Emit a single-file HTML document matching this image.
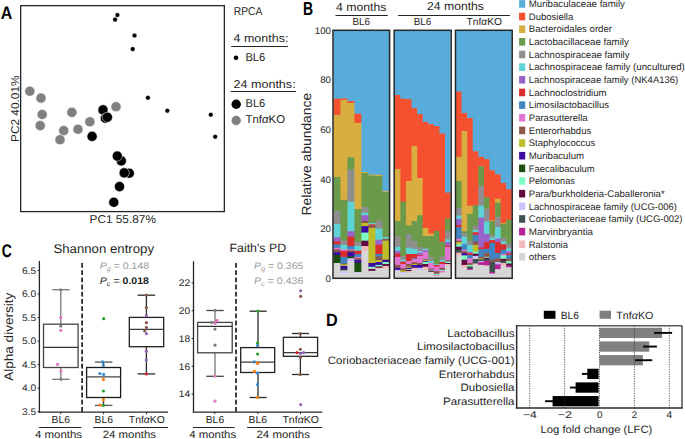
<!DOCTYPE html>
<html><head><meta charset="utf-8"><style>
html,body{margin:0;padding:0;background:#fff;width:685px;height:439px;overflow:hidden}
svg{display:block}
text{font-family:"Liberation Sans",sans-serif;white-space:pre;text-rendering:geometricPrecision}
</style></head><body>
<svg width="685" height="439" viewBox="0 0 685 439">
<rect width="685" height="439" fill="#fff"/>
<text x="0.70" y="19.30" font-size="18.02" font-weight="bold" font-style="normal" fill="#000" textLength="11.53" lengthAdjust="spacingAndGlyphs" >A</text>
<rect x="20.65" y="5.65" width="203.7" height="205.95" fill="none" stroke="#262626" stroke-width="1.3"/>
<circle cx="29.8" cy="91.2" r="5.05" fill="#808080" stroke="#fff" stroke-width="0.5"/>
<circle cx="41" cy="98.1" r="5.05" fill="#808080" stroke="#fff" stroke-width="0.5"/>
<circle cx="42.2" cy="114.5" r="5.05" fill="#808080" stroke="#fff" stroke-width="0.5"/>
<circle cx="40.2" cy="125.6" r="5.05" fill="#808080" stroke="#fff" stroke-width="0.5"/>
<circle cx="63.7" cy="130.6" r="5.05" fill="#808080" stroke="#fff" stroke-width="0.5"/>
<circle cx="60" cy="139.7" r="5.05" fill="#808080" stroke="#fff" stroke-width="0.5"/>
<circle cx="71.9" cy="112.4" r="5.05" fill="#808080" stroke="#fff" stroke-width="0.5"/>
<circle cx="78" cy="129.3" r="5.05" fill="#808080" stroke="#fff" stroke-width="0.5"/>
<circle cx="89.9" cy="121.8" r="5.05" fill="#808080" stroke="#fff" stroke-width="0.5"/>
<circle cx="116" cy="106.8" r="5.05" fill="#808080" stroke="#fff" stroke-width="0.5"/>
<circle cx="103" cy="109.9" r="5.05" fill="#000" stroke="#fff" stroke-width="0.5"/>
<circle cx="105.4" cy="118.2" r="5.05" fill="#000" stroke="#fff" stroke-width="0.5"/>
<circle cx="107.4" cy="117.2" r="5.05" fill="#000" stroke="#fff" stroke-width="0.5"/>
<circle cx="92.1" cy="136.4" r="5.05" fill="#000" stroke="#fff" stroke-width="0.5"/>
<circle cx="121.3" cy="160.9" r="5.05" fill="#000" stroke="#fff" stroke-width="0.5"/>
<circle cx="117.3" cy="156.1" r="5.05" fill="#000" stroke="#fff" stroke-width="0.5"/>
<circle cx="129.3" cy="173.2" r="5.05" fill="#000" stroke="#fff" stroke-width="0.5"/>
<circle cx="124.2" cy="172.9" r="5.05" fill="#000" stroke="#fff" stroke-width="0.5"/>
<circle cx="119.5" cy="186.6" r="5.05" fill="#000" stroke="#fff" stroke-width="0.5"/>
<circle cx="113.8" cy="202.3" r="5.05" fill="#000" stroke="#fff" stroke-width="0.5"/>
<circle cx="117.4" cy="15" r="2.3" fill="#000" stroke="#fff" stroke-width="0.3"/>
<circle cx="115.1" cy="19.6" r="2.3" fill="#000" stroke="#fff" stroke-width="0.3"/>
<circle cx="134.5" cy="35.5" r="2.3" fill="#000" stroke="#fff" stroke-width="0.3"/>
<circle cx="132.7" cy="49.1" r="2.3" fill="#000" stroke="#fff" stroke-width="0.3"/>
<circle cx="147.9" cy="97.8" r="2.3" fill="#000" stroke="#fff" stroke-width="0.3"/>
<circle cx="167.3" cy="110.7" r="2.3" fill="#000" stroke="#fff" stroke-width="0.3"/>
<circle cx="210.8" cy="114.7" r="2.3" fill="#000" stroke="#fff" stroke-width="0.3"/>
<circle cx="215.2" cy="136.7" r="2.3" fill="#000" stroke="#fff" stroke-width="0.3"/>
<text x="233.70" y="14.90" font-size="11.34" font-weight="normal" font-style="normal" fill="#262626" textLength="28.78" lengthAdjust="spacingAndGlyphs" >RPCA</text>
<text x="233.50" y="41.60" font-size="11.34" font-weight="normal" font-style="normal" fill="#262626" textLength="54.91" lengthAdjust="spacingAndGlyphs" >4 months:</text>
<line x1="231.1" y1="46.5" x2="288" y2="46.5" stroke="#262626" stroke-width="1.1" />
<circle cx="236" cy="57.8" r="2.3" fill="#000" stroke="none" stroke-width="0"/>
<text x="245.40" y="60.50" font-size="11.34" font-weight="normal" font-style="normal" fill="#262626" textLength="19.89" lengthAdjust="spacingAndGlyphs" >BL6</text>
<text x="233.50" y="87.80" font-size="11.34" font-weight="normal" font-style="normal" fill="#262626" textLength="62.13" lengthAdjust="spacingAndGlyphs" >24 months:</text>
<line x1="230.7" y1="91.5" x2="296" y2="91.5" stroke="#262626" stroke-width="1.1" />
<circle cx="236.2" cy="104.2" r="4.7" fill="#000" stroke="none" stroke-width="0"/>
<text x="245.50" y="106.60" font-size="11.34" font-weight="normal" font-style="normal" fill="#262626" textLength="19.79" lengthAdjust="spacingAndGlyphs" >BL6</text>
<circle cx="236.2" cy="120.5" r="4.7" fill="#808080" stroke="none" stroke-width="0"/>
<text x="245.50" y="122.60" font-size="11.34" font-weight="normal" font-style="normal" fill="#262626" textLength="39.58" lengthAdjust="spacingAndGlyphs" >Tnf<tspan font-style="italic">α</tspan>KO</text>
<text x="89.50" y="223.00" font-size="11.34" font-weight="normal" font-style="normal" fill="#262626" textLength="66.40" lengthAdjust="spacingAndGlyphs" >PC1 55.87%</text>
<text transform="translate(19.20,142.00) rotate(-90)" x="-0.00" y="0" font-size="11.34" font-weight="normal" font-style="normal" fill="#262626" textLength="66.50" lengthAdjust="spacingAndGlyphs" >PC2 40.01%</text>
<text x="302.90" y="14.80" font-size="18.75" font-weight="bold" font-style="normal" fill="#000" textLength="10.13" lengthAdjust="spacingAndGlyphs" >B</text>
<text x="336.00" y="10.90" font-size="11.63" font-weight="normal" font-style="normal" fill="#262626" textLength="50.48" lengthAdjust="spacingAndGlyphs" >4 months</text>
<line x1="335.5" y1="15.5" x2="387.8" y2="15.5" stroke="#262626" stroke-width="1.1" />
<text x="352.50" y="25.40" font-size="10.17" font-weight="normal" font-style="normal" fill="#262626" textLength="17.49" lengthAdjust="spacingAndGlyphs" >BL6</text>
<text x="427.00" y="10.40" font-size="11.63" font-weight="normal" font-style="normal" fill="#262626" textLength="56.99" lengthAdjust="spacingAndGlyphs" >24 months</text>
<line x1="398" y1="15.5" x2="510" y2="15.5" stroke="#262626" stroke-width="1.1" />
<text x="413.70" y="25.20" font-size="10.17" font-weight="normal" font-style="normal" fill="#262626" textLength="17.69" lengthAdjust="spacingAndGlyphs" >BL6</text>
<text x="466.50" y="25.20" font-size="10.17" font-weight="normal" font-style="normal" fill="#262626" textLength="35.48" lengthAdjust="spacingAndGlyphs" >Tnf<tspan font-style="italic">α</tspan>KO</text>
<text x="314.76" y="33.80" font-size="9.59" font-weight="normal" font-style="normal" fill="#262626" textLength="16.22" lengthAdjust="spacingAndGlyphs" >100</text>
<text x="320.16" y="83.40" font-size="9.59" font-weight="normal" font-style="normal" fill="#262626" textLength="10.86" lengthAdjust="spacingAndGlyphs" >80</text>
<text x="320.16" y="133.00" font-size="9.59" font-weight="normal" font-style="normal" fill="#262626" textLength="10.86" lengthAdjust="spacingAndGlyphs" >60</text>
<text x="320.16" y="182.60" font-size="9.59" font-weight="normal" font-style="normal" fill="#262626" textLength="10.86" lengthAdjust="spacingAndGlyphs" >40</text>
<text x="320.16" y="232.20" font-size="9.59" font-weight="normal" font-style="normal" fill="#262626" textLength="10.86" lengthAdjust="spacingAndGlyphs" >20</text>
<text x="325.60" y="281.80" font-size="9.59" font-weight="normal" font-style="normal" fill="#262626" textLength="5.41" lengthAdjust="spacingAndGlyphs" >0</text>
<text transform="translate(311.40,215.40) rotate(-90)" x="-0.00" y="0" font-size="13.23" font-weight="normal" font-style="normal" fill="#262626" textLength="122.60" lengthAdjust="spacingAndGlyphs" >Relative abundance</text>
<rect x="333.40" y="30.30" width="7.60" height="68.90" fill="#58acdc" />
<rect x="333.40" y="98.70" width="7.60" height="16.60" fill="#f5502f" />
<rect x="333.40" y="114.80" width="7.60" height="62.60" fill="#d8ae40" />
<rect x="333.40" y="176.90" width="7.60" height="34.70" fill="#6b9a4b" />
<rect x="333.40" y="211.10" width="7.60" height="13.50" fill="#8e8e8e" />
<rect x="333.40" y="224.10" width="7.60" height="13.70" fill="#5dd3d6" />
<rect x="333.40" y="237.30" width="7.60" height="4.60" fill="#9b63c9" />
<rect x="333.40" y="241.40" width="7.60" height="3.50" fill="#dc2b2b" />
<rect x="333.40" y="244.40" width="7.60" height="3.90" fill="#3e85c1" />
<rect x="333.40" y="247.80" width="7.60" height="2.00" fill="#e274d4" />
<rect x="333.40" y="249.30" width="7.60" height="3.30" fill="#8c564b" />
<rect x="333.40" y="252.10" width="7.60" height="3.40" fill="#3b0aa0" />
<rect x="333.40" y="255.00" width="7.60" height="8.50" fill="#1b4d0c" />
<rect x="333.40" y="263.00" width="7.60" height="15.30" fill="#d6d6d6" />
<rect x="340.40" y="30.30" width="7.60" height="68.60" fill="#58acdc" />
<rect x="340.40" y="98.40" width="7.60" height="1.90" fill="#f5502f" />
<rect x="340.40" y="99.80" width="7.60" height="100.50" fill="#d8ae40" />
<rect x="340.40" y="199.80" width="7.60" height="41.20" fill="#6b9a4b" />
<rect x="340.40" y="240.50" width="7.60" height="4.80" fill="#8e8e8e" />
<rect x="340.40" y="244.80" width="7.60" height="5.00" fill="#5dd3d6" />
<rect x="340.40" y="249.30" width="7.60" height="2.10" fill="#e274d4" />
<rect x="340.40" y="250.90" width="7.60" height="6.50" fill="#dc2b2b" />
<rect x="340.40" y="256.90" width="7.60" height="7.10" fill="#3e85c1" />
<rect x="340.40" y="263.50" width="7.60" height="1.40" fill="#8c564b" />
<rect x="340.40" y="264.40" width="7.60" height="2.00" fill="#bdbe2a" />
<rect x="340.40" y="265.90" width="7.60" height="3.80" fill="#3b0aa0" />
<rect x="340.40" y="269.20" width="7.60" height="1.70" fill="#1b4d0c" />
<rect x="340.40" y="270.40" width="7.60" height="1.50" fill="#d6d6d6" />
<rect x="340.40" y="271.40" width="7.60" height="2.10" fill="#cdc2ff" />
<rect x="340.40" y="273.00" width="7.60" height="5.30" fill="#d6d6d6" />
<rect x="347.40" y="30.30" width="7.60" height="71.30" fill="#58acdc" />
<rect x="347.40" y="101.10" width="7.60" height="2.40" fill="#f5502f" />
<rect x="347.40" y="103.00" width="7.60" height="54.80" fill="#d8ae40" />
<rect x="347.40" y="157.30" width="7.60" height="12.60" fill="#6b9a4b" />
<rect x="347.40" y="169.40" width="7.60" height="32.90" fill="#8e8e8e" />
<rect x="347.40" y="201.80" width="7.60" height="29.90" fill="#5dd3d6" />
<rect x="347.40" y="231.20" width="7.60" height="5.90" fill="#9b63c9" />
<rect x="347.40" y="236.60" width="7.60" height="9.90" fill="#dc2b2b" />
<rect x="347.40" y="246.00" width="7.60" height="3.80" fill="#3e85c1" />
<rect x="347.40" y="249.30" width="7.60" height="1.40" fill="#e274d4" />
<rect x="347.40" y="250.20" width="7.60" height="2.40" fill="#8c564b" />
<rect x="347.40" y="252.10" width="7.60" height="4.80" fill="#3b0aa0" />
<rect x="347.40" y="256.40" width="7.60" height="2.40" fill="#1b4d0c" />
<rect x="347.40" y="258.30" width="7.60" height="3.80" fill="#cdc2ff" />
<rect x="347.40" y="261.60" width="7.60" height="16.70" fill="#d6d6d6" />
<rect x="354.40" y="30.30" width="7.60" height="83.90" fill="#58acdc" />
<rect x="354.40" y="113.70" width="7.60" height="9.80" fill="#f5502f" />
<rect x="354.40" y="123.00" width="7.60" height="86.60" fill="#d8ae40" />
<rect x="354.40" y="209.10" width="7.60" height="33.20" fill="#6b9a4b" />
<rect x="354.40" y="241.80" width="7.60" height="4.50" fill="#8e8e8e" />
<rect x="354.40" y="245.80" width="7.60" height="5.40" fill="#5dd3d6" />
<rect x="354.40" y="250.70" width="7.60" height="3.80" fill="#dc2b2b" />
<rect x="354.40" y="254.00" width="7.60" height="3.40" fill="#3e85c1" />
<rect x="354.40" y="256.90" width="7.60" height="1.70" fill="#e274d4" />
<rect x="354.40" y="258.10" width="7.60" height="2.40" fill="#8c564b" />
<rect x="354.40" y="260.00" width="7.60" height="3.10" fill="#3b0aa0" />
<rect x="354.40" y="262.60" width="7.60" height="9.90" fill="#1b4d0c" />
<rect x="354.40" y="272.00" width="7.60" height="1.50" fill="#cdc2ff" />
<rect x="354.40" y="273.00" width="7.60" height="5.30" fill="#d6d6d6" />
<rect x="361.40" y="30.30" width="7.60" height="142.30" fill="#58acdc" />
<rect x="361.40" y="172.10" width="7.60" height="1.40" fill="#d8ae40" />
<rect x="361.40" y="173.00" width="7.60" height="34.50" fill="#6b9a4b" />
<rect x="361.40" y="207.00" width="7.60" height="6.30" fill="#8e8e8e" />
<rect x="361.40" y="212.80" width="7.60" height="2.90" fill="#5dd3d6" />
<rect x="361.40" y="215.20" width="7.60" height="6.20" fill="#9b63c9" />
<rect x="361.40" y="220.90" width="7.60" height="2.60" fill="#8c564b" />
<rect x="361.40" y="223.00" width="7.60" height="3.60" fill="#bdbe2a" />
<rect x="361.40" y="226.10" width="7.60" height="7.00" fill="#3b0aa0" />
<rect x="361.40" y="232.60" width="7.60" height="8.60" fill="#7dfcc4" />
<rect x="361.40" y="240.70" width="7.60" height="5.80" fill="#5f0a40" />
<rect x="361.40" y="246.00" width="7.60" height="5.20" fill="#f3b9b9" />
<rect x="361.40" y="250.70" width="7.60" height="27.60" fill="#d6d6d6" />
<rect x="368.40" y="30.30" width="7.60" height="144.70" fill="#58acdc" />
<rect x="368.40" y="174.50" width="7.60" height="1.30" fill="#d8ae40" />
<rect x="368.40" y="175.30" width="7.60" height="48.20" fill="#6b9a4b" />
<rect x="368.40" y="223.00" width="7.60" height="1.90" fill="#5dd3d6" />
<rect x="368.40" y="224.40" width="7.60" height="1.80" fill="#dc2b2b" />
<rect x="368.40" y="225.70" width="7.60" height="2.60" fill="#8c564b" />
<rect x="368.40" y="227.80" width="7.60" height="35.70" fill="#bdbe2a" />
<rect x="368.40" y="263.00" width="7.60" height="4.30" fill="#3b0aa0" />
<rect x="368.40" y="266.80" width="7.60" height="1.90" fill="#7dfcc4" />
<rect x="368.40" y="268.20" width="7.60" height="1.20" fill="#d6d6d6" />
<rect x="368.40" y="268.90" width="7.60" height="2.40" fill="#5f0a40" />
<rect x="368.40" y="270.80" width="7.60" height="7.50" fill="#d6d6d6" />
<rect x="375.40" y="30.30" width="7.60" height="145.00" fill="#58acdc" />
<rect x="375.40" y="174.80" width="7.60" height="1.70" fill="#d8ae40" />
<rect x="375.40" y="176.00" width="7.60" height="45.00" fill="#6b9a4b" />
<rect x="375.40" y="220.50" width="7.60" height="8.70" fill="#8e8e8e" />
<rect x="375.40" y="228.70" width="7.60" height="11.60" fill="#5dd3d6" />
<rect x="375.40" y="239.80" width="7.60" height="5.50" fill="#9b63c9" />
<rect x="375.40" y="244.80" width="7.60" height="9.70" fill="#dc2b2b" />
<rect x="375.40" y="254.00" width="7.60" height="2.90" fill="#3e85c1" />
<rect x="375.40" y="256.40" width="7.60" height="4.30" fill="#8c564b" />
<rect x="375.40" y="260.20" width="7.60" height="2.40" fill="#bdbe2a" />
<rect x="375.40" y="262.10" width="7.60" height="3.30" fill="#3b0aa0" />
<rect x="375.40" y="264.90" width="7.60" height="2.00" fill="#7dfcc4" />
<rect x="375.40" y="266.40" width="7.60" height="1.90" fill="#5f0a40" />
<rect x="375.40" y="267.80" width="7.60" height="1.20" fill="#f3b9b9" />
<rect x="375.40" y="268.50" width="7.60" height="9.80" fill="#d6d6d6" />
<rect x="382.40" y="30.30" width="7.00" height="161.40" fill="#58acdc" />
<rect x="382.40" y="191.20" width="7.00" height="1.30" fill="#d8ae40" />
<rect x="382.40" y="192.00" width="7.00" height="45.60" fill="#6b9a4b" />
<rect x="382.40" y="237.10" width="7.00" height="2.10" fill="#5dd3d6" />
<rect x="382.40" y="238.70" width="7.00" height="2.50" fill="#8c564b" />
<rect x="382.40" y="240.70" width="7.00" height="19.50" fill="#bdbe2a" />
<rect x="382.40" y="259.70" width="7.00" height="2.90" fill="#3b0aa0" />
<rect x="382.40" y="262.10" width="7.00" height="2.40" fill="#7dfcc4" />
<rect x="382.40" y="264.00" width="7.00" height="2.40" fill="#5f0a40" />
<rect x="382.40" y="265.90" width="7.00" height="2.80" fill="#f3b9b9" />
<rect x="382.40" y="268.20" width="7.00" height="10.10" fill="#d6d6d6" />
<rect x="394.80" y="30.30" width="6.18" height="65.20" fill="#58acdc" />
<rect x="394.80" y="95.00" width="6.18" height="74.50" fill="#f5502f" />
<rect x="394.80" y="169.00" width="6.18" height="52.50" fill="#d8ae40" />
<rect x="394.80" y="221.00" width="6.18" height="15.50" fill="#6b9a4b" />
<rect x="394.80" y="236.00" width="6.18" height="11.40" fill="#8e8e8e" />
<rect x="394.80" y="246.90" width="6.18" height="4.50" fill="#5dd3d6" />
<rect x="394.80" y="250.90" width="6.18" height="3.10" fill="#9b63c9" />
<rect x="394.80" y="253.50" width="6.18" height="3.90" fill="#dc2b2b" />
<rect x="394.80" y="256.90" width="6.18" height="8.50" fill="#e274d4" />
<rect x="394.80" y="264.90" width="6.18" height="3.40" fill="#8c564b" />
<rect x="394.80" y="267.80" width="6.18" height="2.60" fill="#3b0aa0" />
<rect x="394.80" y="269.90" width="6.18" height="1.70" fill="#cdc2ff" />
<rect x="394.80" y="271.10" width="6.18" height="7.20" fill="#d6d6d6" />
<rect x="400.38" y="30.30" width="6.18" height="68.90" fill="#58acdc" />
<rect x="400.38" y="98.70" width="6.18" height="103.40" fill="#f5502f" />
<rect x="400.38" y="201.60" width="6.18" height="54.80" fill="#6b9a4b" />
<rect x="400.38" y="255.90" width="6.18" height="4.30" fill="#8e8e8e" />
<rect x="400.38" y="259.70" width="6.18" height="2.40" fill="#5dd3d6" />
<rect x="400.38" y="261.60" width="6.18" height="2.90" fill="#dc2b2b" />
<rect x="400.38" y="264.00" width="6.18" height="4.70" fill="#e274d4" />
<rect x="400.38" y="268.20" width="6.18" height="2.90" fill="#8c564b" />
<rect x="400.38" y="270.60" width="6.18" height="1.90" fill="#bdbe2a" />
<rect x="400.38" y="272.00" width="6.18" height="2.00" fill="#cdc2ff" />
<rect x="400.38" y="273.50" width="6.18" height="4.80" fill="#d6d6d6" />
<rect x="405.96" y="30.30" width="6.18" height="69.30" fill="#58acdc" />
<rect x="405.96" y="99.10" width="6.18" height="82.40" fill="#f5502f" />
<rect x="405.96" y="181.00" width="6.18" height="44.80" fill="#d8ae40" />
<rect x="405.96" y="225.30" width="6.18" height="9.10" fill="#6b9a4b" />
<rect x="405.96" y="233.90" width="6.18" height="14.40" fill="#8e8e8e" />
<rect x="405.96" y="247.80" width="6.18" height="6.70" fill="#5dd3d6" />
<rect x="405.96" y="254.00" width="6.18" height="7.60" fill="#dc2b2b" />
<rect x="405.96" y="261.10" width="6.18" height="3.40" fill="#e274d4" />
<rect x="405.96" y="264.00" width="6.18" height="3.10" fill="#8c564b" />
<rect x="405.96" y="266.60" width="6.18" height="1.70" fill="#bdbe2a" />
<rect x="405.96" y="267.80" width="6.18" height="1.90" fill="#3b0aa0" />
<rect x="405.96" y="269.20" width="6.18" height="1.30" fill="#7dfcc4" />
<rect x="405.96" y="270.00" width="6.18" height="1.60" fill="#5f0a40" />
<rect x="405.96" y="271.10" width="6.18" height="1.90" fill="#f3b9b9" />
<rect x="405.96" y="272.50" width="6.18" height="5.80" fill="#d6d6d6" />
<rect x="411.54" y="30.30" width="6.18" height="78.40" fill="#58acdc" />
<rect x="411.54" y="108.20" width="6.18" height="38.20" fill="#f5502f" />
<rect x="411.54" y="145.90" width="6.18" height="75.60" fill="#d8ae40" />
<rect x="411.54" y="221.00" width="6.18" height="20.20" fill="#6b9a4b" />
<rect x="411.54" y="240.70" width="6.18" height="8.60" fill="#8e8e8e" />
<rect x="411.54" y="248.80" width="6.18" height="5.70" fill="#5dd3d6" />
<rect x="411.54" y="254.00" width="6.18" height="4.80" fill="#dc2b2b" />
<rect x="411.54" y="258.30" width="6.18" height="1.40" fill="#3e85c1" />
<rect x="411.54" y="259.20" width="6.18" height="3.40" fill="#e274d4" />
<rect x="411.54" y="262.10" width="6.18" height="2.40" fill="#8c564b" />
<rect x="411.54" y="264.00" width="6.18" height="1.40" fill="#bdbe2a" />
<rect x="411.54" y="264.90" width="6.18" height="3.40" fill="#3b0aa0" />
<rect x="411.54" y="267.80" width="6.18" height="2.40" fill="#f3b9b9" />
<rect x="411.54" y="269.70" width="6.18" height="8.60" fill="#d6d6d6" />
<rect x="417.12" y="30.30" width="6.18" height="84.20" fill="#58acdc" />
<rect x="417.12" y="114.00" width="6.18" height="64.70" fill="#f5502f" />
<rect x="417.12" y="178.20" width="6.18" height="37.50" fill="#d8ae40" />
<rect x="417.12" y="215.20" width="6.18" height="32.20" fill="#6b9a4b" />
<rect x="417.12" y="246.90" width="6.18" height="4.80" fill="#8e8e8e" />
<rect x="417.12" y="251.20" width="6.18" height="1.90" fill="#5dd3d6" />
<rect x="417.12" y="252.60" width="6.18" height="2.90" fill="#9b63c9" />
<rect x="417.12" y="255.00" width="6.18" height="1.40" fill="#dc2b2b" />
<rect x="417.12" y="255.90" width="6.18" height="7.60" fill="#e274d4" />
<rect x="417.12" y="263.00" width="6.18" height="2.40" fill="#8c564b" />
<rect x="417.12" y="264.90" width="6.18" height="3.40" fill="#3b0aa0" />
<rect x="417.12" y="267.80" width="6.18" height="2.80" fill="#cdc2ff" />
<rect x="417.12" y="270.10" width="6.18" height="8.20" fill="#d6d6d6" />
<rect x="422.70" y="30.30" width="6.18" height="92.10" fill="#58acdc" />
<rect x="422.70" y="121.90" width="6.18" height="106.60" fill="#f5502f" />
<rect x="422.70" y="228.00" width="6.18" height="8.50" fill="#d8ae40" />
<rect x="422.70" y="236.00" width="6.18" height="12.80" fill="#6b9a4b" />
<rect x="422.70" y="248.30" width="6.18" height="1.00" fill="#8e8e8e" />
<rect x="422.70" y="248.80" width="6.18" height="1.90" fill="#5dd3d6" />
<rect x="422.70" y="250.20" width="6.18" height="2.40" fill="#9b63c9" />
<rect x="422.70" y="252.10" width="6.18" height="7.60" fill="#e274d4" />
<rect x="422.70" y="259.20" width="6.18" height="1.50" fill="#8c564b" />
<rect x="422.70" y="260.20" width="6.18" height="1.40" fill="#bdbe2a" />
<rect x="422.70" y="261.10" width="6.18" height="1.30" fill="#3b0aa0" />
<rect x="422.70" y="261.90" width="6.18" height="2.60" fill="#7dfcc4" />
<rect x="422.70" y="264.00" width="6.18" height="3.30" fill="#5f0a40" />
<rect x="422.70" y="266.80" width="6.18" height="3.40" fill="#f3b9b9" />
<rect x="422.70" y="269.70" width="6.18" height="8.60" fill="#d6d6d6" />
<rect x="428.28" y="30.30" width="6.18" height="94.40" fill="#58acdc" />
<rect x="428.28" y="124.20" width="6.18" height="109.90" fill="#f5502f" />
<rect x="428.28" y="233.60" width="6.18" height="2.90" fill="#d8ae40" />
<rect x="428.28" y="236.00" width="6.18" height="21.80" fill="#6b9a4b" />
<rect x="428.28" y="257.30" width="6.18" height="4.30" fill="#8e8e8e" />
<rect x="428.28" y="261.10" width="6.18" height="2.40" fill="#5dd3d6" />
<rect x="428.28" y="263.00" width="6.18" height="6.20" fill="#e274d4" />
<rect x="428.28" y="268.70" width="6.18" height="1.70" fill="#8c564b" />
<rect x="428.28" y="269.90" width="6.18" height="1.20" fill="#7dfcc4" />
<rect x="428.28" y="270.60" width="6.18" height="1.70" fill="#5f0a40" />
<rect x="428.28" y="271.80" width="6.18" height="6.50" fill="#d6d6d6" />
<rect x="433.86" y="30.30" width="6.18" height="96.20" fill="#58acdc" />
<rect x="433.86" y="126.00" width="6.18" height="105.40" fill="#f5502f" />
<rect x="433.86" y="230.90" width="6.18" height="33.60" fill="#6b9a4b" />
<rect x="433.86" y="264.00" width="6.18" height="1.40" fill="#5dd3d6" />
<rect x="433.86" y="264.90" width="6.18" height="2.20" fill="#dc2b2b" />
<rect x="433.86" y="266.60" width="6.18" height="5.00" fill="#e274d4" />
<rect x="433.86" y="271.10" width="6.18" height="3.30" fill="#8c564b" />
<rect x="433.86" y="273.90" width="6.18" height="1.50" fill="#7dfcc4" />
<rect x="433.86" y="274.90" width="6.18" height="1.40" fill="#e274d4" />
<rect x="433.86" y="275.80" width="6.18" height="2.50" fill="#d6d6d6" />
<rect x="439.44" y="30.30" width="6.18" height="103.70" fill="#58acdc" />
<rect x="439.44" y="133.50" width="6.18" height="108.80" fill="#f5502f" />
<rect x="439.44" y="241.80" width="6.18" height="15.10" fill="#6b9a4b" />
<rect x="439.44" y="256.40" width="6.18" height="4.30" fill="#8e8e8e" />
<rect x="439.44" y="260.20" width="6.18" height="2.20" fill="#5dd3d6" />
<rect x="439.44" y="261.90" width="6.18" height="2.60" fill="#dc2b2b" />
<rect x="439.44" y="264.00" width="6.18" height="4.30" fill="#e274d4" />
<rect x="439.44" y="267.80" width="6.18" height="2.60" fill="#8c564b" />
<rect x="439.44" y="269.90" width="6.18" height="1.40" fill="#7dfcc4" />
<rect x="439.44" y="270.80" width="6.18" height="2.20" fill="#e274d4" />
<rect x="439.44" y="272.50" width="6.18" height="5.80" fill="#d6d6d6" />
<rect x="445.02" y="30.30" width="5.58" height="162.80" fill="#58acdc" />
<rect x="445.02" y="192.60" width="5.58" height="26.40" fill="#f5502f" />
<rect x="445.02" y="218.50" width="5.58" height="12.80" fill="#6b9a4b" />
<rect x="445.02" y="230.80" width="5.58" height="9.10" fill="#8e8e8e" />
<rect x="445.02" y="239.40" width="5.58" height="2.90" fill="#5dd3d6" />
<rect x="445.02" y="241.80" width="5.58" height="4.20" fill="#9b63c9" />
<rect x="445.02" y="245.50" width="5.58" height="1.90" fill="#dc2b2b" />
<rect x="445.02" y="246.90" width="5.58" height="13.80" fill="#e274d4" />
<rect x="445.02" y="260.20" width="5.58" height="1.90" fill="#8c564b" />
<rect x="445.02" y="261.60" width="5.58" height="1.90" fill="#7dfcc4" />
<rect x="445.02" y="263.00" width="5.58" height="1.50" fill="#5f0a40" />
<rect x="445.02" y="264.00" width="5.58" height="2.20" fill="#f3b9b9" />
<rect x="445.02" y="265.70" width="5.58" height="12.60" fill="#d6d6d6" />
<rect x="456.00" y="30.30" width="6.18" height="61.80" fill="#58acdc" />
<rect x="456.00" y="91.60" width="6.18" height="65.70" fill="#f5502f" />
<rect x="456.00" y="156.80" width="6.18" height="24.70" fill="#d8ae40" />
<rect x="456.00" y="181.00" width="6.18" height="27.50" fill="#6b9a4b" />
<rect x="456.00" y="208.00" width="6.18" height="8.00" fill="#8e8e8e" />
<rect x="456.00" y="215.50" width="6.18" height="3.90" fill="#5dd3d6" />
<rect x="456.00" y="218.90" width="6.18" height="6.60" fill="#9b63c9" />
<rect x="456.00" y="225.00" width="6.18" height="2.60" fill="#dc2b2b" />
<rect x="456.00" y="227.10" width="6.18" height="12.10" fill="#3e85c1" />
<rect x="456.00" y="238.70" width="6.18" height="2.50" fill="#e274d4" />
<rect x="456.00" y="240.70" width="6.18" height="1.90" fill="#8c564b" />
<rect x="456.00" y="242.10" width="6.18" height="2.60" fill="#bdbe2a" />
<rect x="456.00" y="244.20" width="6.18" height="3.00" fill="#7dfcc4" />
<rect x="456.00" y="246.70" width="6.18" height="3.40" fill="#5f0a40" />
<rect x="456.00" y="249.60" width="6.18" height="3.50" fill="#3f5252" />
<rect x="456.00" y="252.60" width="6.18" height="3.30" fill="#f3b9b9" />
<rect x="456.00" y="255.40" width="6.18" height="22.90" fill="#d6d6d6" />
<rect x="461.58" y="30.30" width="6.18" height="83.20" fill="#58acdc" />
<rect x="461.58" y="113.00" width="6.18" height="18.50" fill="#f5502f" />
<rect x="461.58" y="131.00" width="6.18" height="100.70" fill="#d8ae40" />
<rect x="461.58" y="231.20" width="6.18" height="2.50" fill="#6b9a4b" />
<rect x="461.58" y="233.20" width="6.18" height="3.90" fill="#8e8e8e" />
<rect x="461.58" y="236.60" width="6.18" height="8.10" fill="#5dd3d6" />
<rect x="461.58" y="244.20" width="6.18" height="6.00" fill="#3e85c1" />
<rect x="461.58" y="249.70" width="6.18" height="2.00" fill="#e274d4" />
<rect x="461.58" y="251.20" width="6.18" height="2.40" fill="#8c564b" />
<rect x="461.58" y="253.10" width="6.18" height="2.80" fill="#3b0aa0" />
<rect x="461.58" y="255.40" width="6.18" height="4.80" fill="#7dfcc4" />
<rect x="461.58" y="259.70" width="6.18" height="5.70" fill="#5f0a40" />
<rect x="461.58" y="264.90" width="6.18" height="3.40" fill="#f3b9b9" />
<rect x="461.58" y="267.80" width="6.18" height="10.50" fill="#d6d6d6" />
<rect x="467.16" y="30.30" width="6.18" height="88.20" fill="#58acdc" />
<rect x="467.16" y="118.00" width="6.18" height="88.20" fill="#f5502f" />
<rect x="467.16" y="205.70" width="6.18" height="8.70" fill="#d8ae40" />
<rect x="467.16" y="213.90" width="6.18" height="27.40" fill="#6b9a4b" />
<rect x="467.16" y="240.80" width="6.18" height="4.60" fill="#8e8e8e" />
<rect x="467.16" y="244.90" width="6.18" height="7.70" fill="#5dd3d6" />
<rect x="467.16" y="252.10" width="6.18" height="1.50" fill="#9b63c9" />
<rect x="467.16" y="253.10" width="6.18" height="2.40" fill="#dc2b2b" />
<rect x="467.16" y="255.00" width="6.18" height="3.80" fill="#3e85c1" />
<rect x="467.16" y="258.30" width="6.18" height="5.20" fill="#e274d4" />
<rect x="467.16" y="263.00" width="6.18" height="2.40" fill="#8c564b" />
<rect x="467.16" y="264.90" width="6.18" height="2.00" fill="#7dfcc4" />
<rect x="467.16" y="266.40" width="6.18" height="2.80" fill="#3f5252" />
<rect x="467.16" y="268.70" width="6.18" height="1.70" fill="#b52293" />
<rect x="467.16" y="269.90" width="6.18" height="8.40" fill="#d6d6d6" />
<rect x="472.74" y="30.30" width="6.18" height="121.50" fill="#58acdc" />
<rect x="472.74" y="151.30" width="6.18" height="54.50" fill="#f5502f" />
<rect x="472.74" y="205.30" width="6.18" height="21.00" fill="#6b9a4b" />
<rect x="472.74" y="225.80" width="6.18" height="4.60" fill="#8e8e8e" />
<rect x="472.74" y="229.90" width="6.18" height="2.80" fill="#5dd3d6" />
<rect x="472.74" y="232.20" width="6.18" height="3.20" fill="#dc2b2b" />
<rect x="472.74" y="234.90" width="6.18" height="7.10" fill="#3e85c1" />
<rect x="472.74" y="241.50" width="6.18" height="3.90" fill="#8c564b" />
<rect x="472.74" y="244.90" width="6.18" height="7.20" fill="#bdbe2a" />
<rect x="472.74" y="251.60" width="6.18" height="2.60" fill="#7dfcc4" />
<rect x="472.74" y="253.70" width="6.18" height="2.70" fill="#5f0a40" />
<rect x="472.74" y="255.90" width="6.18" height="3.60" fill="#cdc2ff" />
<rect x="472.74" y="259.00" width="6.18" height="5.00" fill="#3f5252" />
<rect x="472.74" y="263.50" width="6.18" height="1.50" fill="#f3b9b9" />
<rect x="472.74" y="264.50" width="6.18" height="13.80" fill="#d6d6d6" />
<rect x="478.32" y="30.30" width="6.18" height="127.00" fill="#58acdc" />
<rect x="478.32" y="156.80" width="6.18" height="9.90" fill="#f5502f" />
<rect x="478.32" y="166.20" width="6.18" height="20.00" fill="#6b9a4b" />
<rect x="478.32" y="185.70" width="6.18" height="20.50" fill="#8e8e8e" />
<rect x="478.32" y="205.70" width="6.18" height="12.40" fill="#5dd3d6" />
<rect x="478.32" y="217.60" width="6.18" height="30.40" fill="#9b63c9" />
<rect x="478.32" y="247.50" width="6.18" height="2.30" fill="#dc2b2b" />
<rect x="478.32" y="249.30" width="6.18" height="8.10" fill="#3e85c1" />
<rect x="478.32" y="256.90" width="6.18" height="2.10" fill="#8c564b" />
<rect x="478.32" y="258.50" width="6.18" height="1.40" fill="#bdbe2a" />
<rect x="478.32" y="259.40" width="6.18" height="2.20" fill="#3f5252" />
<rect x="478.32" y="261.10" width="6.18" height="1.50" fill="#cdc2ff" />
<rect x="478.32" y="262.10" width="6.18" height="3.30" fill="#b52293" />
<rect x="478.32" y="264.90" width="6.18" height="13.40" fill="#d6d6d6" />
<rect x="483.90" y="30.30" width="6.18" height="129.30" fill="#58acdc" />
<rect x="483.90" y="159.10" width="6.18" height="38.40" fill="#f5502f" />
<rect x="483.90" y="197.00" width="6.18" height="12.20" fill="#6b9a4b" />
<rect x="483.90" y="208.70" width="6.18" height="13.40" fill="#8e8e8e" />
<rect x="483.90" y="221.60" width="6.18" height="12.80" fill="#5dd3d6" />
<rect x="483.90" y="233.90" width="6.18" height="8.70" fill="#9b63c9" />
<rect x="483.90" y="242.10" width="6.18" height="7.20" fill="#dc2b2b" />
<rect x="483.90" y="248.80" width="6.18" height="4.80" fill="#3e85c1" />
<rect x="483.90" y="253.10" width="6.18" height="4.30" fill="#8c564b" />
<rect x="483.90" y="256.90" width="6.18" height="1.40" fill="#7dfcc4" />
<rect x="483.90" y="257.80" width="6.18" height="1.70" fill="#5f0a40" />
<rect x="483.90" y="259.00" width="6.18" height="2.20" fill="#3f5252" />
<rect x="483.90" y="260.70" width="6.18" height="5.20" fill="#b52293" />
<rect x="483.90" y="265.40" width="6.18" height="12.90" fill="#d6d6d6" />
<rect x="489.48" y="30.30" width="6.18" height="140.50" fill="#58acdc" />
<rect x="489.48" y="170.30" width="6.18" height="50.50" fill="#f5502f" />
<rect x="489.48" y="220.30" width="6.18" height="1.20" fill="#d8ae40" />
<rect x="489.48" y="221.00" width="6.18" height="14.80" fill="#6b9a4b" />
<rect x="489.48" y="235.30" width="6.18" height="2.80" fill="#8e8e8e" />
<rect x="489.48" y="237.60" width="6.18" height="3.00" fill="#5dd3d6" />
<rect x="489.48" y="240.10" width="6.18" height="3.20" fill="#dc2b2b" />
<rect x="489.48" y="242.80" width="6.18" height="17.40" fill="#3e85c1" />
<rect x="489.48" y="259.70" width="6.18" height="2.90" fill="#8c564b" />
<rect x="489.48" y="262.10" width="6.18" height="10.40" fill="#3f5252" />
<rect x="489.48" y="272.00" width="6.18" height="2.00" fill="#b52293" />
<rect x="489.48" y="273.50" width="6.18" height="4.80" fill="#d6d6d6" />
<rect x="495.06" y="30.30" width="6.18" height="144.60" fill="#58acdc" />
<rect x="495.06" y="174.40" width="6.18" height="24.80" fill="#f5502f" />
<rect x="495.06" y="198.70" width="6.18" height="4.30" fill="#d8ae40" />
<rect x="495.06" y="202.50" width="6.18" height="14.80" fill="#6b9a4b" />
<rect x="495.06" y="216.80" width="6.18" height="10.80" fill="#8e8e8e" />
<rect x="495.06" y="227.10" width="6.18" height="12.10" fill="#5dd3d6" />
<rect x="495.06" y="238.70" width="6.18" height="3.90" fill="#9b63c9" />
<rect x="495.06" y="242.10" width="6.18" height="11.50" fill="#dc2b2b" />
<rect x="495.06" y="253.10" width="6.18" height="5.70" fill="#3e85c1" />
<rect x="495.06" y="258.30" width="6.18" height="4.30" fill="#8c564b" />
<rect x="495.06" y="262.10" width="6.18" height="2.20" fill="#cdc2ff" />
<rect x="495.06" y="263.80" width="6.18" height="1.60" fill="#9b63c9" />
<rect x="495.06" y="264.90" width="6.18" height="4.80" fill="#b52293" />
<rect x="495.06" y="269.20" width="6.18" height="9.10" fill="#d6d6d6" />
<rect x="500.64" y="30.30" width="6.18" height="153.20" fill="#58acdc" />
<rect x="500.64" y="183.00" width="6.18" height="40.50" fill="#f5502f" />
<rect x="500.64" y="223.00" width="6.18" height="1.20" fill="#d8ae40" />
<rect x="500.64" y="223.70" width="6.18" height="14.80" fill="#6b9a4b" />
<rect x="500.64" y="238.00" width="6.18" height="3.90" fill="#8e8e8e" />
<rect x="500.64" y="241.40" width="6.18" height="3.30" fill="#5dd3d6" />
<rect x="500.64" y="244.20" width="6.18" height="6.00" fill="#dc2b2b" />
<rect x="500.64" y="249.70" width="6.18" height="4.80" fill="#3e85c1" />
<rect x="500.64" y="254.00" width="6.18" height="1.90" fill="#e274d4" />
<rect x="500.64" y="255.40" width="6.18" height="3.90" fill="#7dfcc4" />
<rect x="500.64" y="258.80" width="6.18" height="2.40" fill="#5f0a40" />
<rect x="500.64" y="260.70" width="6.18" height="2.80" fill="#3f5252" />
<rect x="500.64" y="263.00" width="6.18" height="3.40" fill="#f3b9b9" />
<rect x="500.64" y="265.90" width="6.18" height="12.40" fill="#d6d6d6" />
<rect x="506.22" y="30.30" width="5.58" height="159.40" fill="#58acdc" />
<rect x="506.22" y="189.20" width="5.58" height="30.90" fill="#f5502f" />
<rect x="506.22" y="219.60" width="5.58" height="24.40" fill="#6b9a4b" />
<rect x="506.22" y="243.50" width="5.58" height="5.30" fill="#8e8e8e" />
<rect x="506.22" y="248.30" width="5.58" height="3.40" fill="#5dd3d6" />
<rect x="506.22" y="251.20" width="5.58" height="2.80" fill="#9b63c9" />
<rect x="506.22" y="253.50" width="5.58" height="1.90" fill="#dc2b2b" />
<rect x="506.22" y="254.90" width="5.58" height="4.40" fill="#3e85c1" />
<rect x="506.22" y="258.80" width="5.58" height="2.80" fill="#8c564b" />
<rect x="506.22" y="261.10" width="5.58" height="2.90" fill="#7dfcc4" />
<rect x="506.22" y="263.50" width="5.58" height="2.40" fill="#5f0a40" />
<rect x="506.22" y="265.40" width="5.58" height="2.40" fill="#b52293" />
<rect x="506.22" y="267.30" width="5.58" height="11.00" fill="#d6d6d6" />
<rect x="333.0" y="30.3" width="56.60" height="248.00" fill="none" stroke="#262626" stroke-width="1.5"/>
<rect x="394.2" y="30.3" width="57.00" height="248.00" fill="none" stroke="#262626" stroke-width="1.5"/>
<rect x="455.5" y="30.3" width="56.70" height="248.00" fill="none" stroke="#262626" stroke-width="1.5"/>
<rect x="519.10" y="0.10" width="6.10" height="7.60" fill="#58acdc" />
<text x="528.80" y="7.15" font-size="9.59" font-weight="normal" font-style="normal" fill="#262626" textLength="96.09" lengthAdjust="spacingAndGlyphs" >Muribaculaceae family</text>
<rect x="519.10" y="12.75" width="6.10" height="7.60" fill="#f5502f" />
<text x="528.80" y="19.80" font-size="9.59" font-weight="normal" font-style="normal" fill="#262626" textLength="44.45" lengthAdjust="spacingAndGlyphs" >Dubosiella</text>
<rect x="519.10" y="25.40" width="6.10" height="7.60" fill="#d8ae40" />
<text x="528.80" y="32.45" font-size="9.59" font-weight="normal" font-style="normal" fill="#262626" textLength="83.17" lengthAdjust="spacingAndGlyphs" >Bacteroidales order</text>
<rect x="519.10" y="38.05" width="6.10" height="7.60" fill="#6b9a4b" />
<text x="528.80" y="45.10" font-size="9.59" font-weight="normal" font-style="normal" fill="#262626" textLength="99.99" lengthAdjust="spacingAndGlyphs" >Lactobacillaceae family</text>
<rect x="519.10" y="50.70" width="6.10" height="7.60" fill="#8e8e8e" />
<text x="528.80" y="57.75" font-size="9.59" font-weight="normal" font-style="normal" fill="#262626" textLength="100.76" lengthAdjust="spacingAndGlyphs" >Lachnospiraceae family</text>
<rect x="519.10" y="63.35" width="6.10" height="7.60" fill="#5dd3d6" />
<text x="528.80" y="70.40" font-size="9.59" font-weight="normal" font-style="normal" fill="#262626" textLength="155.95" lengthAdjust="spacingAndGlyphs" >Lachnospiraceae family (uncultured)</text>
<rect x="519.10" y="76.00" width="6.10" height="7.60" fill="#9b63c9" />
<text x="528.80" y="83.05" font-size="9.59" font-weight="normal" font-style="normal" fill="#262626" textLength="149.46" lengthAdjust="spacingAndGlyphs" >Lachnospiraceae family (NK4A136)</text>
<rect x="519.10" y="88.65" width="6.10" height="7.60" fill="#dc2b2b" />
<text x="528.80" y="95.70" font-size="9.59" font-weight="normal" font-style="normal" fill="#262626" textLength="77.85" lengthAdjust="spacingAndGlyphs" >Lachnoclostridium</text>
<rect x="519.10" y="101.30" width="6.10" height="7.60" fill="#3e85c1" />
<text x="528.80" y="108.35" font-size="9.59" font-weight="normal" font-style="normal" fill="#262626" textLength="80.32" lengthAdjust="spacingAndGlyphs" >Limosilactobacillus</text>
<rect x="519.10" y="113.95" width="6.10" height="7.60" fill="#e274d4" />
<text x="528.80" y="121.00" font-size="9.59" font-weight="normal" font-style="normal" fill="#262626" textLength="58.80" lengthAdjust="spacingAndGlyphs" >Parasutterella</text>
<rect x="519.10" y="126.60" width="6.10" height="7.60" fill="#8c564b" />
<text x="528.80" y="133.65" font-size="9.59" font-weight="normal" font-style="normal" fill="#262626" textLength="62.40" lengthAdjust="spacingAndGlyphs" >Enterorhabdus</text>
<rect x="519.10" y="139.25" width="6.10" height="7.60" fill="#bdbe2a" />
<text x="528.80" y="146.30" font-size="9.59" font-weight="normal" font-style="normal" fill="#262626" textLength="66.34" lengthAdjust="spacingAndGlyphs" >Staphylococcus</text>
<rect x="519.10" y="151.90" width="6.10" height="7.60" fill="#3b0aa0" />
<text x="528.80" y="158.95" font-size="9.59" font-weight="normal" font-style="normal" fill="#262626" textLength="55.24" lengthAdjust="spacingAndGlyphs" >Muribaculum</text>
<rect x="519.10" y="164.55" width="6.10" height="7.60" fill="#1b4d0c" />
<text x="528.80" y="171.60" font-size="9.59" font-weight="normal" font-style="normal" fill="#262626" textLength="65.84" lengthAdjust="spacingAndGlyphs" >Faecalibaculum</text>
<rect x="519.10" y="177.20" width="6.10" height="7.60" fill="#7dfcc4" />
<text x="528.80" y="184.25" font-size="9.59" font-weight="normal" font-style="normal" fill="#262626" textLength="46.08" lengthAdjust="spacingAndGlyphs" >Pelomonas</text>
<rect x="519.10" y="189.85" width="6.10" height="7.60" fill="#5f0a40" />
<text x="528.80" y="196.90" font-size="9.59" font-weight="normal" font-style="normal" fill="#262626" textLength="135.86" lengthAdjust="spacingAndGlyphs" >Para/burkholderia-Caballeronia*</text>
<rect x="519.10" y="202.50" width="6.10" height="7.60" fill="#cdc2ff" />
<text x="528.80" y="209.55" font-size="9.59" font-weight="normal" font-style="normal" fill="#262626" textLength="148.14" lengthAdjust="spacingAndGlyphs" >Lachnospiraceae family (UCG-006)</text>
<rect x="519.10" y="215.15" width="6.10" height="7.60" fill="#3f5252" />
<text x="528.80" y="222.20" font-size="9.59" font-weight="normal" font-style="normal" fill="#262626" textLength="153.73" lengthAdjust="spacingAndGlyphs" >Coriobacteriaceae family (UCG-002)</text>
<rect x="519.10" y="227.80" width="6.10" height="7.60" fill="#b52293" />
<text x="528.80" y="234.85" font-size="9.59" font-weight="normal" font-style="normal" fill="#262626" textLength="64.23" lengthAdjust="spacingAndGlyphs" >Marvinbryantia</text>
<rect x="519.10" y="240.45" width="6.10" height="7.60" fill="#f3b9b9" />
<text x="528.80" y="247.50" font-size="9.59" font-weight="normal" font-style="normal" fill="#262626" textLength="39.14" lengthAdjust="spacingAndGlyphs" >Ralstonia</text>
<rect x="519.10" y="253.10" width="6.10" height="7.60" fill="#d6d6d6" />
<text x="528.80" y="260.15" font-size="9.59" font-weight="normal" font-style="normal" fill="#262626" textLength="27.04" lengthAdjust="spacingAndGlyphs" >others</text>
<text x="1.80" y="256.60" font-size="18.46" font-weight="bold" font-style="normal" fill="#000" textLength="10.03" lengthAdjust="spacingAndGlyphs" >C</text>
<line x1="39.4" y1="260.9" x2="39.4" y2="412.7" stroke="#262626" stroke-width="1.3" />
<line x1="38.8" y1="412.2" x2="168" y2="412.2" stroke="#262626" stroke-width="1.2" />
<text x="21.95" y="415.00" font-size="9.59" font-weight="normal" font-style="normal" fill="#262626" textLength="14.15" lengthAdjust="spacingAndGlyphs" >3.5</text>
<line x1="37.6" y1="411.7" x2="39.4" y2="411.7" stroke="#262626" stroke-width="1.0" />
<text x="21.95" y="391.46" font-size="9.59" font-weight="normal" font-style="normal" fill="#262626" textLength="14.15" lengthAdjust="spacingAndGlyphs" >4.0</text>
<line x1="37.6" y1="388.16499999999996" x2="39.4" y2="388.16499999999996" stroke="#262626" stroke-width="1.0" />
<text x="21.95" y="367.93" font-size="9.59" font-weight="normal" font-style="normal" fill="#262626" textLength="14.15" lengthAdjust="spacingAndGlyphs" >4.5</text>
<line x1="37.6" y1="364.63" x2="39.4" y2="364.63" stroke="#262626" stroke-width="1.0" />
<text x="21.95" y="344.39" font-size="9.59" font-weight="normal" font-style="normal" fill="#262626" textLength="14.15" lengthAdjust="spacingAndGlyphs" >5.0</text>
<line x1="37.6" y1="341.09499999999997" x2="39.4" y2="341.09499999999997" stroke="#262626" stroke-width="1.0" />
<text x="21.95" y="320.86" font-size="9.59" font-weight="normal" font-style="normal" fill="#262626" textLength="14.15" lengthAdjust="spacingAndGlyphs" >5.5</text>
<line x1="37.6" y1="317.56" x2="39.4" y2="317.56" stroke="#262626" stroke-width="1.0" />
<text x="21.95" y="297.32" font-size="9.59" font-weight="normal" font-style="normal" fill="#262626" textLength="14.15" lengthAdjust="spacingAndGlyphs" >6.0</text>
<line x1="37.6" y1="294.025" x2="39.4" y2="294.025" stroke="#262626" stroke-width="1.0" />
<text x="21.95" y="273.79" font-size="9.59" font-weight="normal" font-style="normal" fill="#262626" textLength="14.15" lengthAdjust="spacingAndGlyphs" >6.5</text>
<line x1="37.6" y1="270.49" x2="39.4" y2="270.49" stroke="#262626" stroke-width="1.0" />
<line x1="60.7" y1="412.1" x2="60.7" y2="414.2" stroke="#262626" stroke-width="1.0" />
<line x1="103.5" y1="412.1" x2="103.5" y2="414.2" stroke="#262626" stroke-width="1.0" />
<line x1="146.6" y1="412.1" x2="146.6" y2="414.2" stroke="#262626" stroke-width="1.0" />
<text transform="translate(12.60,380.80) rotate(-90)" x="-0.00" y="0" font-size="12.50" font-weight="normal" font-style="normal" fill="#262626" textLength="88.07" lengthAdjust="spacingAndGlyphs" >Alpha diversity</text>
<text x="53.40" y="252.50" font-size="12.65" font-weight="normal" font-style="normal" fill="#262626" textLength="100.63" lengthAdjust="spacingAndGlyphs" >Shannon entropy</text>
<text x="99.80" y="269.00" font-size="9.59" font-weight="normal" font-style="normal" fill="#999" textLength="49.30" lengthAdjust="spacingAndGlyphs" ><tspan font-style="italic">P</tspan><tspan font-style="italic" font-size="70%" dy="1.6">g</tspan><tspan dy="-1.6"> = 0.148</tspan></text>
<text x="99.80" y="283.90" font-size="9.59" font-weight="normal" font-style="normal" fill="#1a1a1a" textLength="49.09" lengthAdjust="spacingAndGlyphs" ><tspan font-style="italic">P</tspan><tspan font-style="italic" font-size="70%" dy="1.6">c</tspan><tspan dy="-1.6"> = </tspan><tspan font-weight="bold">0.018</tspan></text>
<line x1="82.1" y1="263.0" x2="82.1" y2="412" stroke="#111" stroke-width="1.6" stroke-dasharray="4.8 2.4"/>
<line x1="60.8" y1="289.7" x2="60.8" y2="324.2" stroke="#777" stroke-width="1.3" />
<line x1="60.8" y1="367.5" x2="60.8" y2="379.3" stroke="#777" stroke-width="1.3" />
<line x1="52.2" y1="289.7" x2="69.6" y2="289.7" stroke="#777" stroke-width="1.3" />
<line x1="52.2" y1="379.3" x2="69.6" y2="379.3" stroke="#777" stroke-width="1.3" />
<rect x="43.5" y="324.2" width="34.60" height="43.30" fill="none" stroke="#444" stroke-width="1.3"/>
<line x1="43.5" y1="347.3" x2="78.1" y2="347.3" stroke="#333" stroke-width="1.3" />
<line x1="103.5" y1="362.1" x2="103.5" y2="367.5" stroke="#333" stroke-width="1.3" />
<line x1="103.5" y1="397.5" x2="103.5" y2="405.4" stroke="#333" stroke-width="1.3" />
<line x1="94.9" y1="362.1" x2="112.4" y2="362.1" stroke="#555" stroke-width="1.3" />
<line x1="94.9" y1="405.4" x2="112.4" y2="405.4" stroke="#555" stroke-width="1.3" />
<rect x="86.6" y="367.5" width="34.00" height="30.00" fill="none" stroke="#1a1a1a" stroke-width="1.3"/>
<line x1="86.6" y1="376.9" x2="120.6" y2="376.9" stroke="#444" stroke-width="1.3" />
<line x1="146.4" y1="295.2" x2="146.4" y2="317.4" stroke="#2a2a2a" stroke-width="1.3" />
<line x1="146.4" y1="346.7" x2="146.4" y2="373.9" stroke="#2a2a2a" stroke-width="1.3" />
<line x1="137.6" y1="295.2" x2="155.2" y2="295.2" stroke="#2a2a2a" stroke-width="1.3" />
<line x1="137.6" y1="373.9" x2="155.2" y2="373.9" stroke="#2a2a2a" stroke-width="1.3" />
<rect x="129.3" y="317.4" width="34.40" height="29.30" fill="none" stroke="#222" stroke-width="1.3"/>
<line x1="129.3" y1="329.3" x2="163.7" y2="329.3" stroke="#3a3a3a" stroke-width="1.3" />
<line x1="193.5" y1="261.2" x2="193.5" y2="412.6" stroke="#262626" stroke-width="1.3" />
<line x1="192.9" y1="412.2" x2="322.2" y2="412.2" stroke="#262626" stroke-width="1.2" />
<text x="178.75" y="397.40" font-size="9.59" font-weight="normal" font-style="normal" fill="#262626" textLength="11.37" lengthAdjust="spacingAndGlyphs" >14</text>
<line x1="191.7" y1="394.1" x2="193.5" y2="394.1" stroke="#262626" stroke-width="1.0" />
<text x="178.75" y="369.60" font-size="9.59" font-weight="normal" font-style="normal" fill="#262626" textLength="11.37" lengthAdjust="spacingAndGlyphs" >16</text>
<line x1="191.7" y1="366.3" x2="193.5" y2="366.3" stroke="#262626" stroke-width="1.0" />
<text x="178.75" y="341.80" font-size="9.59" font-weight="normal" font-style="normal" fill="#262626" textLength="11.37" lengthAdjust="spacingAndGlyphs" >18</text>
<line x1="191.7" y1="338.5" x2="193.5" y2="338.5" stroke="#262626" stroke-width="1.0" />
<text x="178.75" y="314.00" font-size="9.59" font-weight="normal" font-style="normal" fill="#262626" textLength="11.37" lengthAdjust="spacingAndGlyphs" >20</text>
<line x1="191.7" y1="310.70000000000005" x2="193.5" y2="310.70000000000005" stroke="#262626" stroke-width="1.0" />
<text x="178.75" y="286.20" font-size="9.59" font-weight="normal" font-style="normal" fill="#262626" textLength="11.37" lengthAdjust="spacingAndGlyphs" >22</text>
<line x1="191.7" y1="282.90000000000003" x2="193.5" y2="282.90000000000003" stroke="#262626" stroke-width="1.0" />
<line x1="214.8" y1="412.0" x2="214.8" y2="414.1" stroke="#262626" stroke-width="1.0" />
<line x1="257.8" y1="412.0" x2="257.8" y2="414.1" stroke="#262626" stroke-width="1.0" />
<line x1="300.5" y1="412.0" x2="300.5" y2="414.1" stroke="#262626" stroke-width="1.0" />
<text x="229.50" y="252.40" font-size="12.06" font-weight="normal" font-style="normal" fill="#262626" textLength="56.61" lengthAdjust="spacingAndGlyphs" >Faith&#x27;s PD</text>
<text x="254.00" y="269.10" font-size="9.59" font-weight="normal" font-style="normal" fill="#999" textLength="49.40" lengthAdjust="spacingAndGlyphs" ><tspan font-style="italic">P</tspan><tspan font-style="italic" font-size="70%" dy="1.6">g</tspan><tspan dy="-1.6"> = 0.365</tspan></text>
<text x="254.00" y="284.10" font-size="9.59" font-weight="normal" font-style="normal" fill="#999" textLength="49.39" lengthAdjust="spacingAndGlyphs" ><tspan font-style="italic">P</tspan><tspan font-style="italic" font-size="70%" dy="1.6">c</tspan><tspan dy="-1.6"> = 0.436</tspan></text>
<line x1="236" y1="263.0" x2="236" y2="412" stroke="#111" stroke-width="1.6" stroke-dasharray="4.8 2.4"/>
<line x1="215" y1="310.5" x2="215" y2="322.4" stroke="#777" stroke-width="1.3" />
<line x1="215" y1="352.8" x2="215" y2="376.3" stroke="#777" stroke-width="1.3" />
<line x1="206.4" y1="310.5" x2="223.7" y2="310.5" stroke="#444" stroke-width="1.3" />
<line x1="206.4" y1="376.3" x2="223.7" y2="376.3" stroke="#444" stroke-width="1.3" />
<rect x="197.6" y="322.4" width="34.60" height="30.40" fill="none" stroke="#444" stroke-width="1.3"/>
<line x1="197.6" y1="326.4" x2="232.2" y2="326.4" stroke="#333" stroke-width="1.3" />
<line x1="258" y1="311.2" x2="258" y2="347.6" stroke="#2a2a2a" stroke-width="1.3" />
<line x1="258" y1="372.5" x2="258" y2="397.5" stroke="#2a2a2a" stroke-width="1.3" />
<line x1="249.6" y1="311.2" x2="266.7" y2="311.2" stroke="#2a2a2a" stroke-width="1.3" />
<line x1="249.6" y1="397.5" x2="266.7" y2="397.5" stroke="#2a2a2a" stroke-width="1.3" />
<rect x="240.7" y="347.6" width="34.00" height="24.90" fill="none" stroke="#222" stroke-width="1.3"/>
<line x1="240.7" y1="362.2" x2="274.7" y2="362.2" stroke="#3a3a3a" stroke-width="1.3" />
<line x1="300.4" y1="333.5" x2="300.4" y2="337.3" stroke="#2a2a2a" stroke-width="1.3" />
<line x1="300.4" y1="356.3" x2="300.4" y2="374.5" stroke="#2a2a2a" stroke-width="1.3" />
<line x1="292" y1="333.5" x2="309.1" y2="333.5" stroke="#2a2a2a" stroke-width="1.3" />
<line x1="292" y1="374.5" x2="309.1" y2="374.5" stroke="#2a2a2a" stroke-width="1.3" />
<rect x="283.4" y="337.3" width="34.20" height="19.00" fill="none" stroke="#222" stroke-width="1.3"/>
<line x1="283.4" y1="352.7" x2="317.6" y2="352.7" stroke="#3a3a3a" stroke-width="1.3" />
<circle cx="60.8" cy="289.8" r="1.6" fill="#7f7f7f" stroke="none" stroke-width="0"/>
<circle cx="60.8" cy="317.6" r="1.6" fill="#e377c2" stroke="none" stroke-width="0"/>
<circle cx="60.8" cy="326.1" r="1.6" fill="#7f7f7f" stroke="none" stroke-width="0"/>
<circle cx="60.8" cy="330.3" r="1.6" fill="#e377c2" stroke="none" stroke-width="0"/>
<circle cx="57.6" cy="364.4" r="1.6" fill="#e377c2" stroke="none" stroke-width="0"/>
<circle cx="61" cy="371.1" r="1.6" fill="#e377c2" stroke="none" stroke-width="0"/>
<circle cx="61" cy="379.3" r="1.6" fill="#7f7f7f" stroke="none" stroke-width="0"/>
<circle cx="103.7" cy="318.7" r="1.6" fill="#2ca02c" stroke="none" stroke-width="0"/>
<circle cx="102.5" cy="361.8" r="1.6" fill="#3a8ad0" stroke="none" stroke-width="0"/>
<circle cx="103.4" cy="365.3" r="1.6" fill="#3a8ad0" stroke="none" stroke-width="0"/>
<circle cx="99.9" cy="373.5" r="1.6" fill="#3a8ad0" stroke="none" stroke-width="0"/>
<circle cx="103.6" cy="374.4" r="1.6" fill="#3a8ad0" stroke="none" stroke-width="0"/>
<circle cx="103.4" cy="379.4" r="1.6" fill="#ff7f0e" stroke="none" stroke-width="0"/>
<circle cx="103.4" cy="391" r="1.6" fill="#2ca02c" stroke="none" stroke-width="0"/>
<circle cx="103.4" cy="399.8" r="1.6" fill="#ff7f0e" stroke="none" stroke-width="0"/>
<circle cx="100" cy="405" r="1.6" fill="#ff7f0e" stroke="none" stroke-width="0"/>
<circle cx="103.4" cy="405.4" r="1.6" fill="#2ca02c" stroke="none" stroke-width="0"/>
<circle cx="146.4" cy="295.2" r="1.6" fill="#8c564b" stroke="none" stroke-width="0"/>
<circle cx="146.4" cy="307.5" r="1.6" fill="#8c564b" stroke="none" stroke-width="0"/>
<circle cx="146.4" cy="315.5" r="1.6" fill="#9467bd" stroke="none" stroke-width="0"/>
<circle cx="146.4" cy="322.7" r="1.6" fill="#8c564b" stroke="none" stroke-width="0"/>
<circle cx="146.4" cy="327.4" r="1.6" fill="#8c564b" stroke="none" stroke-width="0"/>
<circle cx="144.7" cy="330.9" r="1.6" fill="#8c564b" stroke="none" stroke-width="0"/>
<circle cx="146.4" cy="333.7" r="1.6" fill="#9467bd" stroke="none" stroke-width="0"/>
<circle cx="146.4" cy="351.2" r="1.6" fill="#9467bd" stroke="none" stroke-width="0"/>
<circle cx="146.3" cy="359.9" r="1.6" fill="#9467bd" stroke="none" stroke-width="0"/>
<circle cx="146.3" cy="373.9" r="1.6" fill="#d62728" stroke="none" stroke-width="0"/>
<circle cx="215" cy="310.4" r="1.6" fill="#7f7f7f" stroke="none" stroke-width="0"/>
<circle cx="211.5" cy="322.4" r="1.6" fill="#7f7f7f" stroke="none" stroke-width="0"/>
<circle cx="217" cy="320.4" r="1.6" fill="#e377c2" stroke="none" stroke-width="0"/>
<circle cx="215.1" cy="323.3" r="1.6" fill="#e377c2" stroke="none" stroke-width="0"/>
<circle cx="215" cy="329.1" r="1.6" fill="#7f7f7f" stroke="none" stroke-width="0"/>
<circle cx="215" cy="345.2" r="1.6" fill="#7f7f7f" stroke="none" stroke-width="0"/>
<circle cx="215" cy="376.1" r="1.6" fill="#e377c2" stroke="none" stroke-width="0"/>
<circle cx="215" cy="401.2" r="1.6" fill="#e377c2" stroke="none" stroke-width="0"/>
<circle cx="258" cy="311.2" r="1.6" fill="#2ca02c" stroke="none" stroke-width="0"/>
<circle cx="257.6" cy="343.2" r="1.6" fill="#2ca02c" stroke="none" stroke-width="0"/>
<circle cx="257.6" cy="345.5" r="1.6" fill="#3a8ad0" stroke="none" stroke-width="0"/>
<circle cx="257.6" cy="354.1" r="1.6" fill="#2ca02c" stroke="none" stroke-width="0"/>
<circle cx="254.3" cy="361.9" r="1.6" fill="#3a8ad0" stroke="none" stroke-width="0"/>
<circle cx="257.6" cy="363.4" r="1.6" fill="#ff7f0e" stroke="none" stroke-width="0"/>
<circle cx="254.3" cy="371.4" r="1.6" fill="#ff7f0e" stroke="none" stroke-width="0"/>
<circle cx="257.6" cy="373.2" r="1.6" fill="#3a8ad0" stroke="none" stroke-width="0"/>
<circle cx="257.5" cy="384.6" r="1.6" fill="#3a8ad0" stroke="none" stroke-width="0"/>
<circle cx="257.5" cy="397.5" r="1.6" fill="#ff7f0e" stroke="none" stroke-width="0"/>
<circle cx="300.7" cy="290.8" r="1.6" fill="#9467bd" stroke="none" stroke-width="0"/>
<circle cx="300.7" cy="296.3" r="1.6" fill="#8c564b" stroke="none" stroke-width="0"/>
<circle cx="300.4" cy="333.5" r="1.6" fill="#8c564b" stroke="none" stroke-width="0"/>
<circle cx="300.4" cy="349.3" r="1.6" fill="#8c564b" stroke="none" stroke-width="0"/>
<circle cx="297" cy="352.7" r="1.6" fill="#d62728" stroke="none" stroke-width="0"/>
<circle cx="300.4" cy="353.5" r="1.6" fill="#9467bd" stroke="none" stroke-width="0"/>
<circle cx="303.6" cy="352.7" r="1.6" fill="#9467bd" stroke="none" stroke-width="0"/>
<circle cx="300.4" cy="357.5" r="1.6" fill="#8c564b" stroke="none" stroke-width="0"/>
<circle cx="300.4" cy="374.5" r="1.6" fill="#8c564b" stroke="none" stroke-width="0"/>
<circle cx="300.7" cy="404.7" r="1.6" fill="#9467bd" stroke="none" stroke-width="0"/>
<text x="51.60" y="423.00" font-size="10.17" font-weight="normal" font-style="normal" fill="#262626" textLength="18.39" lengthAdjust="spacingAndGlyphs" >BL6</text>
<text x="94.60" y="423.00" font-size="10.17" font-weight="normal" font-style="normal" fill="#262626" textLength="18.29" lengthAdjust="spacingAndGlyphs" >BL6</text>
<text x="128.80" y="423.00" font-size="10.17" font-weight="normal" font-style="normal" fill="#262626" textLength="35.98" lengthAdjust="spacingAndGlyphs" >Tnf<tspan font-style="italic">α</tspan>KO</text>
<line x1="39" y1="427.5" x2="81.3" y2="427.5" stroke="#262626" stroke-width="1.1" />
<line x1="93.1" y1="427.5" x2="168" y2="427.5" stroke="#262626" stroke-width="1.1" />
<text x="34.90" y="437.60" font-size="10.61" font-weight="normal" font-style="normal" fill="#262626" textLength="47.18" lengthAdjust="spacingAndGlyphs" >4 months</text>
<text x="102.70" y="437.50" font-size="10.61" font-weight="normal" font-style="normal" fill="#262626" textLength="53.29" lengthAdjust="spacingAndGlyphs" >24 months</text>
<text x="205.70" y="423.00" font-size="10.17" font-weight="normal" font-style="normal" fill="#262626" textLength="18.49" lengthAdjust="spacingAndGlyphs" >BL6</text>
<text x="248.50" y="423.00" font-size="10.17" font-weight="normal" font-style="normal" fill="#262626" textLength="18.39" lengthAdjust="spacingAndGlyphs" >BL6</text>
<text x="282.40" y="423.00" font-size="10.17" font-weight="normal" font-style="normal" fill="#262626" textLength="36.58" lengthAdjust="spacingAndGlyphs" >Tnf<tspan font-style="italic">α</tspan>KO</text>
<line x1="193" y1="427.5" x2="234.7" y2="427.5" stroke="#262626" stroke-width="1.1" />
<line x1="247" y1="427.5" x2="322.2" y2="427.5" stroke="#262626" stroke-width="1.1" />
<text x="189.20" y="437.80" font-size="10.61" font-weight="normal" font-style="normal" fill="#262626" textLength="46.98" lengthAdjust="spacingAndGlyphs" >4 months</text>
<text x="256.50" y="437.80" font-size="10.61" font-weight="normal" font-style="normal" fill="#262626" textLength="53.39" lengthAdjust="spacingAndGlyphs" >24 months</text>
<text x="326.10" y="325.70" font-size="17.73" font-weight="bold" font-style="normal" fill="#000" textLength="11.74" lengthAdjust="spacingAndGlyphs" >D</text>
<rect x="543.80" y="310.80" width="11.70" height="8.00" fill="#000" />
<text x="560.70" y="318.70" font-size="10.47" font-weight="normal" font-style="normal" fill="#262626" textLength="18.19" lengthAdjust="spacingAndGlyphs" >BL6</text>
<rect x="599.60" y="310.70" width="11.40" height="8.10" fill="#808080" />
<text x="616.30" y="318.60" font-size="10.47" font-weight="normal" font-style="normal" fill="#262626" textLength="37.08" lengthAdjust="spacingAndGlyphs" >Tnf<tspan font-style="italic">α</tspan>KO</text>
<rect x="599.60" y="327.75" width="62.40" height="10.30" fill="#808080" />
<text x="447.33" y="336.60" font-size="10.76" font-weight="normal" font-style="normal" fill="#262626" textLength="67.28" lengthAdjust="spacingAndGlyphs" >Lactobacillus</text>
<rect x="599.60" y="341.41" width="49.70" height="10.30" fill="#808080" />
<text x="417.01" y="350.26" font-size="10.76" font-weight="normal" font-style="normal" fill="#262626" textLength="97.61" lengthAdjust="spacingAndGlyphs" >Limosilactobacillus</text>
<rect x="599.60" y="355.07" width="43.30" height="10.30" fill="#808080" />
<text x="327.75" y="363.92" font-size="10.76" font-weight="normal" font-style="normal" fill="#262626" textLength="186.83" lengthAdjust="spacingAndGlyphs" >Coriobacteriaceae family (UCG-001)</text>
<rect x="587.30" y="368.73" width="11.30" height="10.30" fill="#000" />
<text x="438.77" y="377.58" font-size="10.76" font-weight="normal" font-style="normal" fill="#262626" textLength="75.84" lengthAdjust="spacingAndGlyphs" >Enterorhabdus</text>
<rect x="575.60" y="382.39" width="23.00" height="10.30" fill="#000" />
<text x="460.52" y="391.24" font-size="10.76" font-weight="normal" font-style="normal" fill="#262626" textLength="54.02" lengthAdjust="spacingAndGlyphs" >Dubosiella</text>
<rect x="552.60" y="396.05" width="46.00" height="10.30" fill="#000" />
<text x="443.08" y="404.90" font-size="10.76" font-weight="normal" font-style="normal" fill="#262626" textLength="71.46" lengthAdjust="spacingAndGlyphs" >Parasutterella</text>
<line x1="529.7" y1="325.6" x2="529.7" y2="408.2" stroke="#333" stroke-width="0.8" stroke-dasharray="1.2 1.2"/>
<line x1="564.6" y1="325.6" x2="564.6" y2="408.2" stroke="#333" stroke-width="0.8" stroke-dasharray="1.2 1.2"/>
<line x1="599.5" y1="325.6" x2="599.5" y2="408.2" stroke="#333" stroke-width="0.8" stroke-dasharray="1.2 1.2"/>
<line x1="634.4" y1="325.6" x2="634.4" y2="408.2" stroke="#333" stroke-width="0.8" stroke-dasharray="1.2 1.2"/>
<line x1="669.3" y1="325.6" x2="669.3" y2="408.2" stroke="#333" stroke-width="0.8" stroke-dasharray="1.2 1.2"/>
<line x1="654.1" y1="332.9" x2="672.1" y2="332.9" stroke="#000" stroke-width="1.9" />
<line x1="643.1" y1="346.56" x2="656.9" y2="346.56" stroke="#000" stroke-width="1.9" />
<line x1="635.1" y1="360.21999999999997" x2="652.2" y2="360.21999999999997" stroke="#000" stroke-width="1.9" />
<line x1="581.9" y1="373.88" x2="592.7" y2="373.88" stroke="#000" stroke-width="1.9" />
<line x1="569.9" y1="387.53999999999996" x2="581.3" y2="387.53999999999996" stroke="#000" stroke-width="1.9" />
<line x1="545.1" y1="401.2" x2="560.1" y2="401.2" stroke="#000" stroke-width="1.9" />
<line x1="516.65" y1="325.7" x2="682" y2="325.7" stroke="#5a5a5a" stroke-width="1.6" />
<line x1="682" y1="325.7" x2="682" y2="407.9" stroke="#5a5a5a" stroke-width="1.6" />
<line x1="516.65" y1="324.9" x2="516.65" y2="408.6" stroke="#2a2a2a" stroke-width="1.5" />
<line x1="515.9" y1="407.9" x2="682.8" y2="407.9" stroke="#2a2a2a" stroke-width="1.5" />
<text x="522.90" y="417.90" font-size="9.74" font-weight="normal" font-style="normal" fill="#262626" textLength="13.90" lengthAdjust="spacingAndGlyphs" >−4</text>
<text x="557.70" y="417.90" font-size="9.74" font-weight="normal" font-style="normal" fill="#262626" textLength="14.40" lengthAdjust="spacingAndGlyphs" >−2</text>
<text x="596.90" y="417.90" font-size="9.74" font-weight="normal" font-style="normal" fill="#262626" textLength="5.51" lengthAdjust="spacingAndGlyphs" >0</text>
<text x="631.70" y="417.90" font-size="9.74" font-weight="normal" font-style="normal" fill="#262626" textLength="5.41" lengthAdjust="spacingAndGlyphs" >2</text>
<text x="666.40" y="417.90" font-size="9.74" font-weight="normal" font-style="normal" fill="#262626" textLength="5.71" lengthAdjust="spacingAndGlyphs" >4</text>
<text x="540.60" y="432.90" font-size="10.68" font-weight="normal" font-style="normal" fill="#262626" textLength="111.71" lengthAdjust="spacingAndGlyphs" >Log fold change (LFC)</text>
</svg>
</body></html>
